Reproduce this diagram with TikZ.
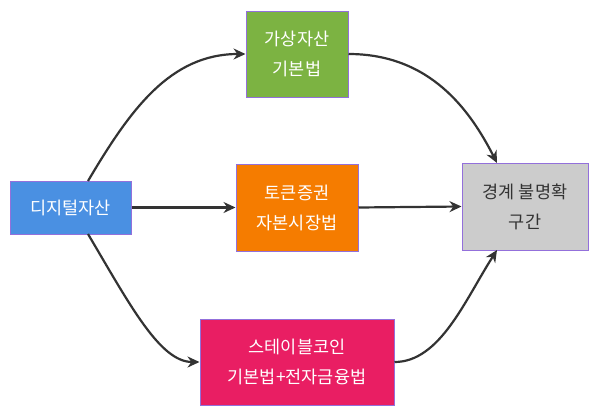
\documentclass[tikz,border=0pt]{standalone}
\usepackage{fontspec}
\setmainfont{Noto Sans CJK KR}
\usetikzlibrary{arrows.meta}
\definecolor{bd}{HTML}{9370DB}
\definecolor{ln}{HTML}{333333}
\definecolor{cb}{HTML}{4A90E2}
\definecolor{cg}{HTML}{7CB342}
\definecolor{co}{HTML}{F57C00}
\definecolor{cp}{HTML}{E91E63}
\definecolor{ck}{HTML}{CCCCCC}
\begin{document}
\begin{tikzpicture}[x=1pt,y=-1pt,
  box/.style={draw=bd,line width=1pt,align=center,font=\fontsize{17.5}{30}\selectfont,inner sep=0pt},
  arr/.style={draw=ln,line width=2.2pt,-{Stealth[length=12pt,width=11pt]}}]
\useasboundingbox (0,0) rectangle (600,418);
\node[box,fill=cb,text=white,minimum width=121pt,minimum height=53pt] (d) at (70.5,207.5) {디지털자산};
\node[box,fill=cg,text=white,minimum width=102pt,minimum height=86pt] (g) at (297,54) {가상자산\\기본법};
\node[box,fill=co,text=white,minimum width=122pt,minimum height=87pt] (o) at (297,207.5) {토큰증권\\자본시장법};
\node[box,fill=cp,text=white,minimum width=194pt,minimum height=86pt] (p) at (297,362) {스테이블코인\\기본법+전자금융법};
\node[box,fill=ck,text=ln,minimum width=126pt,minimum height=87pt] (k) at (525,206.5) {경계 불명확\\구간};
\draw[arr] (88,181) .. controls (130,110) and (170,54) .. (g.west);
\draw[arr] (d.east) -- (o.west);
\draw[arr] (88,234) .. controls (130,305) and (160,362) .. (p.west);
\draw[arr] (g.east) .. controls (430,54) and (470,110) .. (497,163);
\draw[arr] (o.east) -- (k.west);
\draw[arr] (p.east) .. controls (440,362) and (465,300) .. (497,250);
\end{tikzpicture}
\end{document}
